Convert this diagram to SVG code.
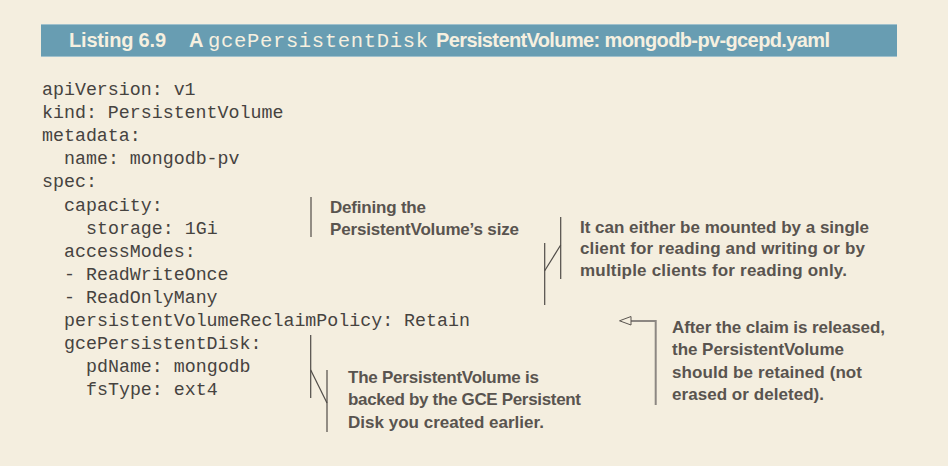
<svg xmlns="http://www.w3.org/2000/svg" width="948" height="466" viewBox="0 0 948 466">
<style>
.code{font-family:"Liberation Mono","DejaVu Sans Mono",monospace;font-size:18.3px;fill:#46433f;white-space:pre}
.ann{font-family:"Liberation Sans","Arial",sans-serif;font-weight:bold;font-size:17px;fill:#59544f}
.ttl{font-family:"Liberation Sans","Arial",sans-serif;font-weight:bold;font-size:20px;fill:#f6f0e0}
.ttlm{font-family:"Liberation Mono",monospace;font-size:20.5px;fill:#f6f0e0}
.ln{stroke:#4f4b47;stroke-width:1.2;fill:none}
.ar{stroke:#8c8782;stroke-width:2;fill:none}
</style>
<rect width="948" height="466" fill="#f4eedf"/>
<g id="header">
<rect x="41" y="24" width="856" height="33" fill="#689db2"/>
<line x1="41" y1="24.5" x2="897" y2="24.5" stroke="#9fc0cc" stroke-width="1"/>
<line x1="41" y1="56.5" x2="897" y2="56.5" stroke="#9fc0cc" stroke-width="1"/>
<text class="ttl" x="69" y="47" textLength="97">Listing 6.9</text>
<text class="ttl" x="189" y="47">A</text>
<text class="ttlm" x="208" y="47" textLength="220">gcePersistentDisk</text>
<text class="ttl" x="436" y="47" textLength="394">PersistentVolume: mongodb-pv-gcepd.yaml</text>
</g>
<g id="code">
<text class="code" x="42" y="95">apiVersion: v1</text>
<text class="code" x="42" y="118.1">kind: PersistentVolume</text>
<text class="code" x="42" y="141.2">metadata:</text>
<text class="code" x="64" y="164.3">name: mongodb-pv</text>
<text class="code" x="42" y="187.4">spec:</text>
<text class="code" x="64" y="210.5">capacity:</text>
<text class="code" x="86" y="233.6">storage: 1Gi</text>
<text class="code" x="64" y="256.7">accessModes:</text>
<text class="code" x="64" y="279.8">- ReadWriteOnce</text>
<text class="code" x="64" y="302.9">- ReadOnlyMany</text>
<text class="code" x="64" y="326">persistentVolumeReclaimPolicy: Retain</text>
<text class="code" x="64" y="349.1">gcePersistentDisk:</text>
<text class="code" x="86" y="372.2">pdName: mongodb</text>
<text class="code" x="86" y="395.3">fsType: ext4</text>
</g>
<g id="connectors">
<line class="ln" x1="311" y1="197" x2="311" y2="237"/>
<line class="ln" x1="560.7" y1="217" x2="560.7" y2="279"/>
<line class="ln" x1="544.7" y1="243" x2="544.7" y2="305"/>
<line class="ln" x1="544.7" y1="270.7" x2="560.7" y2="245"/>
<line class="ln" x1="310.7" y1="335" x2="310.7" y2="398"/>
<line class="ln" x1="327" y1="370" x2="327" y2="432"/>
<line class="ln" x1="310.7" y1="370" x2="327" y2="403"/>
<polyline class="ar" points="655.7,405 655.7,321 631,321"/>
<path d="M619.5,320.8 L631,316.5 L631,325 Z" fill="#f4eedf" stroke="#5a5550" stroke-width="1"/>
</g>
<g id="note-size">
<text class="ann" x="330" y="213" textLength="96">Defining the</text>
<text class="ann" x="330" y="234.5" textLength="189">PersistentVolume’s size</text>
</g>
<g id="note-access">
<text class="ann" x="580" y="232.5" textLength="289">It can either be mounted by a single</text>
<text class="ann" x="580" y="254" textLength="285">client for reading and writing or by</text>
<text class="ann" x="580" y="275.5" textLength="267">multiple clients for reading only.</text>
</g>
<g id="note-retain">
<text class="ann" x="672" y="333" textLength="213">After the claim is released,</text>
<text class="ann" x="672" y="355" textLength="172">the PersistentVolume</text>
<text class="ann" x="672" y="377.5" textLength="190">should be retained (not</text>
<text class="ann" x="672" y="400" textLength="152">erased or deleted).</text>
</g>
<g id="note-gce">
<text class="ann" x="348" y="383" textLength="191">The PersistentVolume is</text>
<text class="ann" x="348" y="405" textLength="233">backed by the GCE Persistent</text>
<text class="ann" x="348" y="427.5" textLength="196">Disk you created earlier.</text>
</g>
</svg>
